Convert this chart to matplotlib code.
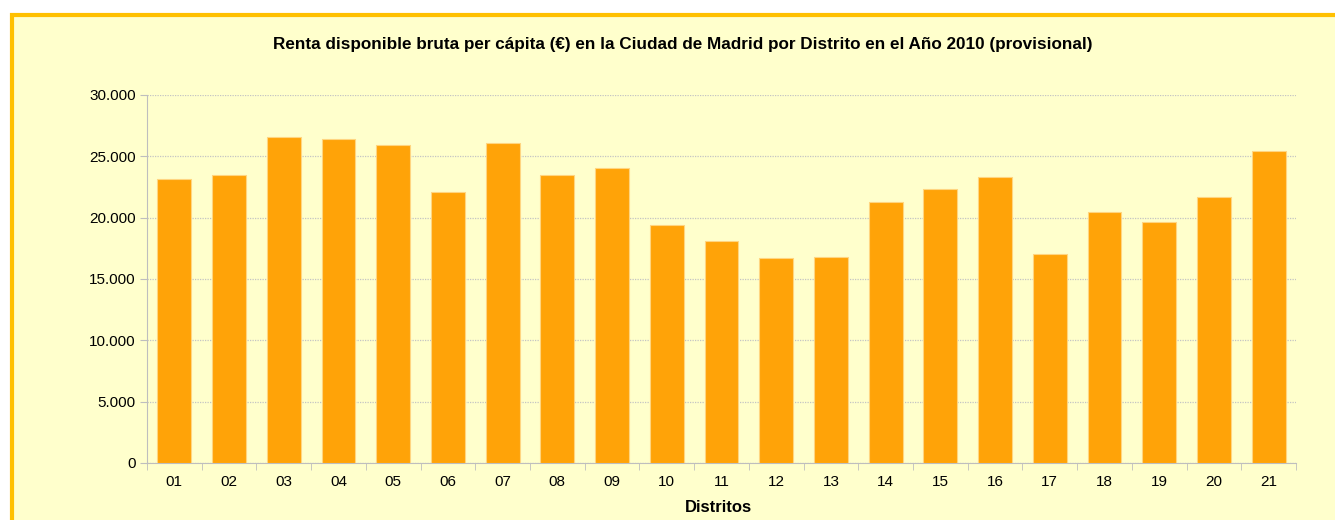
import numpy as np
import matplotlib.pyplot as plt
from matplotlib.patches import Rectangle
from matplotlib.ticker import FuncFormatter, FixedLocator

# === Data ===
distritos = ["01", "02", "03", "04", "05", "06", "07", "08", "09", "10", "11",
             "12", "13", "14", "15", "16", "17", "18", "19", "20", "21"]
renta = [23180, 23450, 26550, 26390, 25920, 22120, 26110, 23480, 24050, 19430, 18130,
         16740, 16790, 21300, 22310, 23340, 17070, 20490, 19620, 21660, 25410]

titulo = "Renta disponible bruta per cápita (€) en la Ciudad de Madrid por Distrito en el Año 2010 (provisional)"
xlabel = "Distritos"

plt.rcParams['font.family'] = ['Liberation Sans', 'DejaVu Sans']

W, H = 1335, 520
fig = plt.figure(figsize=(W / 100, H / 100), dpi=100, facecolor="white")

# chart area frame (cut off at right and bottom)
fig.patches.append(Rectangle((12 / W, -0.05), 1.05, (H - 15) / H + 0.05,
                             transform=fig.transFigure, facecolor="#FFFFCC",
                             edgecolor="#FFC000", linewidth=3, zorder=-5))

ax = fig.add_axes([147 / W, (H - 463) / H, (1296 - 147) / W, (463 - 95) / H])
ax.patch.set_alpha(0)

x = np.arange(len(distritos))
ax.bar(x, renta, width=0.62, color="#FFA308", edgecolor="#FFD580", linewidth=0.8, zorder=3)

ax.set_xlim(-0.5, len(distritos) - 0.5)
ax.set_ylim(0, 30000)
ax.set_yticks(np.arange(0, 30001, 5000))
ax.yaxis.set_major_formatter(FuncFormatter(lambda v, p: f"{int(v):,}".replace(",", ".")))
ax.grid(axis="y", color="#C4C4C4", linestyle=(0, (1, 1)), linewidth=0.9, zorder=0)

ax.set_xticks(x)
ax.set_xticklabels(distritos)
ax.tick_params(axis="x", which="major", length=0, pad=9, labelsize=11)
ax.xaxis.set_minor_locator(FixedLocator(np.arange(-0.5, len(distritos), 1)))
ax.tick_params(axis="x", which="minor", length=5, color="#BEBEBE", direction="out")
ax.tick_params(axis="y", length=5, color="#BEBEBE", labelsize=11, pad=3)

for s in ["top", "right"]:
    ax.spines[s].set_visible(False)
for s in ["left", "bottom"]:
    ax.spines[s].set_color("#BEBEBE")

ax.set_xlabel(xlabel, fontsize=12, fontweight="bold")
ax.xaxis.set_label_coords(0.497, -0.10)
fig.text(683 / W, (H - 44) / H, titulo, ha="center", va="center",
         fontsize=12.3, fontweight="bold")

fig.savefig("out.png", dpi=100, facecolor=fig.get_facecolor())
